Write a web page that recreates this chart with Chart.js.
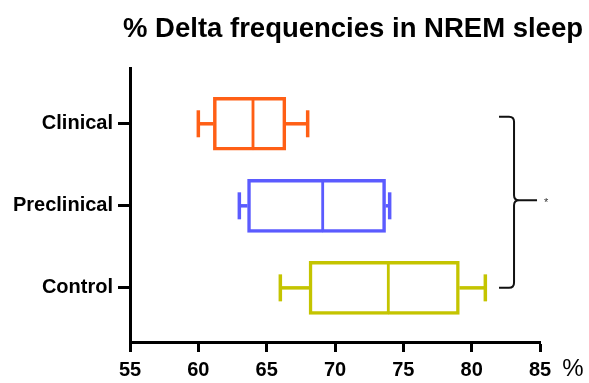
<!DOCTYPE html>
<html>
<head>
<meta charset="utf-8">
<script src="https://cdn.jsdelivr.net/npm/chart.js@4/dist/chart.umd.min.js"></script>
<style>
  html, body { margin: 0; padding: 0; background: #fff; }
  #wrap { width: 589px; height: 383px; }
</style>
</head>
<body>
<div id="wrap"><canvas id="c" width="589" height="383"></canvas></div>
<script>
// ---- data ----
const categories = ['Clinical', 'Preclinical', 'Control'];   // top to bottom
const whiskerMin = [60.0, 63.0, 66.0];
const q1Values   = [61.1, 63.6, 68.1];
const medians    = [64.0, 69.1, 73.9];
const q3Values   = [66.4, 73.7, 79.1];
const whiskerMax = [68.0, 74.0, 81.0];
const xTicks = [55, 60, 65, 70, 75, 80, 85];
const titleText = '% Delta frequencies in NREM sleep';
const xUnit = '%';
const significance = '*';

const colors = ['#FF5F15', '#5B5BFF', '#C4C400'];
const FONT = '"Liberation Sans", Arial, Helvetica, sans-serif';

// category i sits at y position (n - i) on a linear axis
const pos = i => categories.length - i;

const datasets = [];
// box halves (q1..median, median..q3) as floating bars
datasets.push({
  type: 'bar',
  data: categories.map((c, i) => ({ x: [q1Values[i], medians[i]], y: pos(i) })),
  backgroundColor: '#ffffff',
  borderColor: colors,
  borderWidth: { top: 3.5, bottom: 3.5, left: 3.5, right: 1.75 },
  borderSkipped: false,
  barThickness: 53,
  grouped: false
});
datasets.push({
  type: 'bar',
  data: categories.map((c, i) => ({ x: [medians[i], q3Values[i]], y: pos(i) })),
  backgroundColor: '#ffffff',
  borderColor: colors,
  borderWidth: { top: 3.5, bottom: 3.5, left: 1.75, right: 3.5 },
  borderSkipped: false,
  barThickness: 53,
  grouped: false
});
// whiskers with caps
categories.forEach((c, i) => {
  [[whiskerMin[i], q1Values[i], [13.5, 0]], [q3Values[i], whiskerMax[i], [0, 13.5]]].forEach(([a, b, radii]) => {
    datasets.push({
      type: 'scatter',
      showLine: true,
      data: [{ x: a, y: pos(i) }, { x: b, y: pos(i) }],
      borderColor: colors[i],
      borderWidth: 3.5,
      pointStyle: 'line',
      rotation: 90,
      pointRadius: radii,
      pointBorderWidth: 3.5,
      pointBorderColor: colors[i],
      pointBackgroundColor: colors[i],
      clip: false
    });
  });
});

const decorPlugin = {
  id: 'decor',
  afterDraw(chart) {
    const ctx = chart.ctx;
    const xs = chart.scales.x, ys = chart.scales.y;
    ctx.save();
    // title
    ctx.fillStyle = '#000';
    ctx.font = 'bold 27.5px ' + FONT;
    ctx.textAlign = 'center';
    ctx.textBaseline = 'middle';
    ctx.fillText(titleText, 353, 29);
    // unit label right of the x axis
    ctx.font = '24px ' + FONT;
    ctx.fillText(xUnit, 573, 369);
    // significance bracket between Clinical and Control
    const bx = xs.getPixelForValue(83.1);
    const left = bx - 15;
    const top = ys.getPixelForValue(pos(0)) - 7;
    const bot = ys.getPixelForValue(pos(categories.length - 1));
    const mid = (top + bot) / 2 - 2;
    const r = 5;
    ctx.strokeStyle = '#111';
    ctx.lineWidth = 2;
    ctx.beginPath();
    ctx.moveTo(left, top);
    ctx.lineTo(bx - r, top);
    ctx.quadraticCurveTo(bx, top, bx, top + r);
    ctx.lineTo(bx, mid - r);
    ctx.quadraticCurveTo(bx, mid, bx + r, mid);
    ctx.moveTo(bx + r, mid);
    ctx.quadraticCurveTo(bx, mid, bx, mid + r);
    ctx.lineTo(bx, bot - r);
    ctx.quadraticCurveTo(bx, bot, bx - r, bot);
    ctx.lineTo(left, bot);
    ctx.moveTo(bx + r, mid);
    ctx.lineTo(bx + 23, mid);
    ctx.stroke();
    ctx.font = '11px ' + FONT;
    ctx.fillStyle = '#333';
    ctx.fillText(significance, bx + 32, mid + 3);
    ctx.restore();
  }
};

new Chart(document.getElementById('c'), {
  data: { datasets },
  options: {
    indexAxis: 'y',
    responsive: false,
    animation: false,
    events: [],
    layout: { padding: { top: 68, right: 49, bottom: 0, left: 0 } },
    plugins: { legend: { display: false }, tooltip: { enabled: false }, title: { display: false } },
    scales: {
      x: {
        type: 'linear',
        position: 'bottom',
        offset: false,
        min: xTicks[0],
        max: xTicks[xTicks.length - 1],
        afterBuildTicks: s => { s.ticks = xTicks.map(v => ({ value: v })); },
        afterFit: s => { s.height = 41; },
        border: { display: true, color: '#000', width: 3 },
        grid: { offset: false, drawOnChartArea: false, drawTicks: true, tickLength: 10, tickWidth: 3, tickColor: '#000' },
        ticks: { color: '#000', padding: 6, font: { family: FONT, size: 20, weight: 'bold' }, maxRotation: 0 }
      },
      y: {
        type: 'linear',
        position: 'left',
        offset: false,
        min: 0.34,
        max: 3.68,
        afterBuildTicks: s => { s.ticks = categories.map((c, i) => ({ value: pos(i) })); },
        afterFit: s => { s.width = 130; },
        border: { display: true, color: '#000', width: 3 },
        grid: { offset: false, drawOnChartArea: false, drawTicks: true, tickLength: 12, tickWidth: 3, tickColor: '#000' },
        ticks: {
          color: '#000', padding: 5,
          font: { family: FONT, size: 20, weight: 'bold' },
          callback: v => categories[categories.length - v]
        }
      }
    }
  },
  plugins: [decorPlugin]
});
</script>
</body>
</html>
